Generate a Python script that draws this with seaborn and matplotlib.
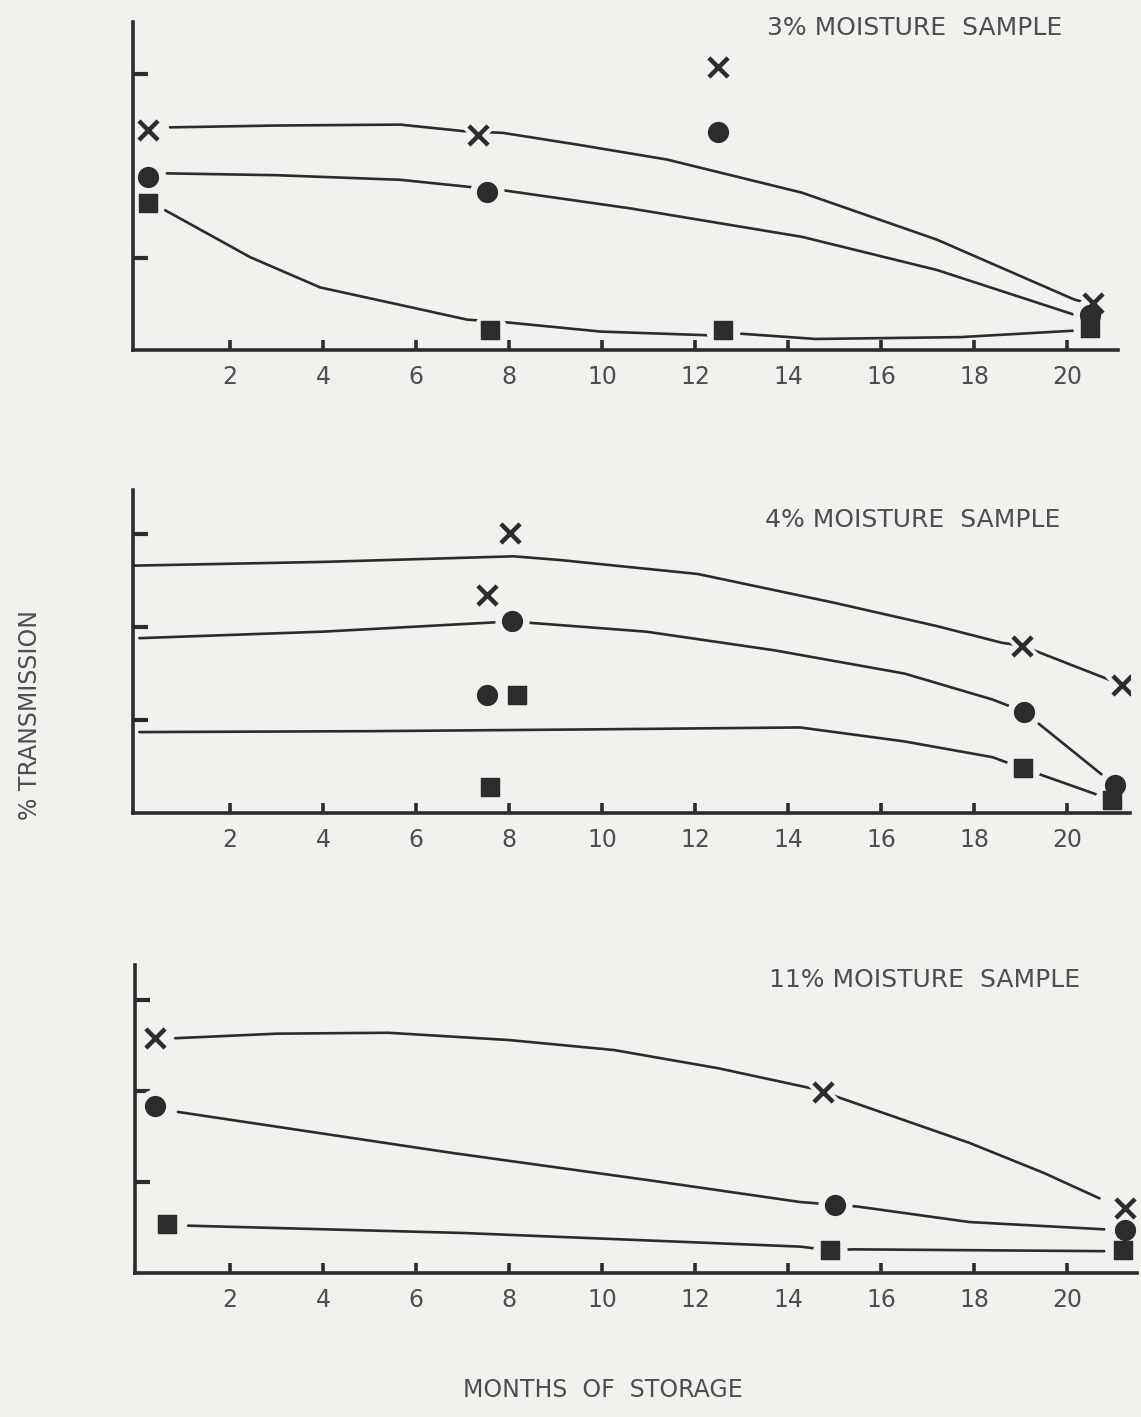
import numpy as np
import pandas as pd
import matplotlib
matplotlib.use("Agg")
import matplotlib.pyplot as plt
import seaborn as sns

# ---- data (months, transmission in tick units) ----
titles = ["3% MOISTURE  SAMPLE", "4% MOISTURE  SAMPLE", "11% MOISTURE  SAMPLE"]
month_ticks = [2, 4, 6, 8, 10, 12, 14, 16, 18, 20]

# 3% sample
p1_x_pts_x = [0.24, 7.33, 12.5, 20.56]
p1_x_pts_y = [2.39, 2.34, 3.08, 0.51]
p1_o_pts_x = [0.24, 7.53, 12.5, 20.5]
p1_o_pts_y = [1.88, 1.72, 2.37, 0.38]
p1_s_pts_x = [0.24, 7.6, 12.6, 20.5]
p1_s_pts_y = [1.60, 0.22, 0.22, 0.24]
p1_x_cur_x = [0.71, 3.0, 5.66, 7.0, 7.87, 9.5, 11.4, 14.3, 17.2, 20.15, 20.5]
p1_x_cur_y = [2.42, 2.44, 2.45, 2.38, 2.36, 2.23, 2.07, 1.71, 1.20, 0.55, 0.50]
p1_o_cur_x = [0.64, 3.0, 5.66, 7.2, 7.96, 10.6, 14.3, 17.2, 20.3]
p1_o_cur_y = [1.92, 1.90, 1.85, 1.77, 1.73, 1.54, 1.23, 0.87, 0.36]
p1_s_cur_x = [0.53, 1.5, 2.43, 3.94, 5.66, 7.1, 7.96, 9.98, 12.3, 12.9, 14.6, 17.7, 20.15]
p1_s_cur_y = [1.54, 1.27, 1.01, 0.68, 0.49, 0.33, 0.30, 0.20, 0.16, 0.18, 0.12, 0.14, 0.21]

# 4% sample
p2_x_pts_x = [8.02, 7.53, 19.03, 21.18]
p2_x_pts_y = [3.01, 2.34, 1.80, 1.38]
p2_o_pts_x = [8.06, 7.53, 19.07, 21.03]
p2_o_pts_y = [2.06, 1.27, 1.09, 0.30]
p2_s_pts_x = [8.17, 7.6, 19.05, 20.97]
p2_s_pts_y = [1.27, 0.28, 0.48, 0.14]
p2_x_cur_x = [-0.05, 4.0, 8.1, 9.1, 12.06, 15.0, 17.2, 18.6, 19.03, 21.18]
p2_x_cur_y = [2.66, 2.70, 2.76, 2.72, 2.57, 2.26, 2.01, 1.83, 1.80, 1.38]
p2_o_cur_x = [0.05, 4.0, 8.06, 10.95, 13.7, 16.5, 18.4, 19.07, 21.03]
p2_o_cur_y = [1.88, 1.95, 2.06, 1.95, 1.75, 1.50, 1.22, 1.09, 0.30]
p2_s_cur_x = [0.05, 5.0, 10.0, 14.26, 16.5, 18.4, 19.05, 20.97]
p2_s_cur_y = [0.87, 0.88, 0.90, 0.92, 0.77, 0.60, 0.48, 0.14]

# 11% sample
p3_x_pts_x = [0.39, 14.75, 21.25]
p3_x_pts_y = [2.58, 1.99, 0.71]
p3_o_pts_x = [0.39, 15.0, 21.25]
p3_o_pts_y = [1.84, 0.75, 0.47]
p3_s_pts_x = [0.65, 14.9, 21.2]
p3_s_pts_y = [0.54, 0.25, 0.25]
p3_x_cur_x = [0.82, 3.0, 5.4, 8.0, 10.26, 12.5, 14.5, 14.75, 17.9, 19.5, 20.7]
p3_x_cur_y = [2.58, 2.63, 2.64, 2.56, 2.45, 2.25, 2.03, 1.99, 1.43, 1.10, 0.82]
p3_o_cur_x = [0.88, 6.77, 11.0, 14.26, 15.0, 15.5, 17.9, 20.8]
p3_o_cur_y = [1.77, 1.32, 1.02, 0.78, 0.75, 0.73, 0.56, 0.48]
p3_s_cur_x = [1.1, 7.0, 14.26, 14.9, 15.4, 20.8]
p3_s_cur_y = [0.52, 0.44, 0.29, 0.25, 0.26, 0.24]

panels = [
    dict(pts=[(p1_x_pts_x, p1_x_pts_y), (p1_o_pts_x, p1_o_pts_y), (p1_s_pts_x, p1_s_pts_y)],
         cur=[(p1_x_cur_x, p1_x_cur_y), (p1_o_cur_x, p1_o_cur_y), (p1_s_cur_x, p1_s_cur_y)],
         yticks=[1, 3]),
    dict(pts=[(p2_x_pts_x, p2_x_pts_y), (p2_o_pts_x, p2_o_pts_y), (p2_s_pts_x, p2_s_pts_y)],
         cur=[(p2_x_cur_x, p2_x_cur_y), (p2_o_cur_x, p2_o_cur_y), (p2_s_cur_x, p2_s_cur_y)],
         yticks=[1, 2, 3]),
    dict(pts=[(p3_x_pts_x, p3_x_pts_y), (p3_o_pts_x, p3_o_pts_y), (p3_s_pts_x, p3_s_pts_y)],
         cur=[(p3_x_cur_x, p3_x_cur_y), (p3_o_cur_x, p3_o_cur_y), (p3_s_cur_x, p3_s_cur_y)],
         yticks=[1, 2, 3]),
]

# ---- layout (pixel boxes of the hand-drawn axes) ----
W, H = 1141, 1417
px_per_month = 46.5
x0_px = 137
boxes = [  # left px, right px, top px, bottom px, px per y unit
    (133, 1118, 22, 350, 92),
    (133, 1130, 490, 813, 93),
    (135, 1137, 965, 1273, 91),
]
title_pos = [(1062, 28), (1060, 520), (1080, 980)]

ink = "#2e2c2b"
paper = "#f3f1ee"
label_col = "#4f4e4d"

sns.set_style("ticks")
plt.rcParams["font.family"] = ["DejaVu Sans"]

fig = plt.figure(figsize=(W / 100, H / 100), dpi=100, facecolor=paper)

for p, box, title, tpos in zip(panels, boxes, titles, title_pos):
    l, r, t, b, upy = box
    ax = fig.add_axes([l / W, 1 - b / H, (r - l) / W, (b - t) / H])
    ax.set_facecolor(paper)
    ax.set_xlim((l - x0_px) / px_per_month, (r - x0_px) / px_per_month)
    ax.set_ylim(0, (b - t) / upy)

    for cx, cy in p["cur"]:
        sns.lineplot(x=cx, y=cy, ax=ax, color=ink, linewidth=1.9, sort=False,
                     estimator=None)

    (xx, xy), (ox, oy), (sx, sy) = p["pts"]
    # paper-coloured halo so the drawn curves stop short of the symbols
    sns.scatterplot(x=xx, y=xy, ax=ax, marker="x", s=330, linewidth=9,
                    color=paper, zorder=4)
    sns.scatterplot(x=ox + sx, y=oy + sy, ax=ax, marker="o", s=520,
                    color=paper, edgecolor=paper, zorder=4)
    sns.scatterplot(x=xx, y=xy, ax=ax, marker="x", s=190, linewidth=3.2,
                    color=ink, zorder=5)
    sns.scatterplot(x=ox, y=oy, ax=ax, marker="o", s=200, color=ink,
                    edgecolor=ink, zorder=5)
    sns.scatterplot(x=sx, y=sy, ax=ax, marker="s", s=170, color=ink,
                    edgecolor=ink, zorder=5)

    sns.despine(ax=ax)
    for side in ["left", "bottom"]:
        ax.spines[side].set_linewidth(2.6)
        ax.spines[side].set_color(ink)
        ax.spines[side].set_zorder(6)
    ax.set_xticks(month_ticks)
    ax.set_xticklabels([str(m) for m in month_ticks], fontsize=17, color=label_col)
    ax.set_yticks(p["yticks"])
    ax.set_yticklabels([])
    ax.tick_params(axis="x", direction="in", length=7, width=2.6, color=ink, pad=11)
    ax.tick_params(axis="y", direction="in", length=11, width=3, color=ink)
    ax.set_xlabel("")
    ax.set_ylabel("")

    fig.text(tpos[0] / W, 1 - tpos[1] / H, title, ha="right", va="center",
             fontsize=18, color=label_col)

fig.text(603 / W, 1 - 1390 / H, "MONTHS  OF  STORAGE", ha="center", va="center",
         fontsize=17, color=label_col)
fig.text(30 / W, 1 - 715 / H, "% TRANSMISSION", ha="center", va="center",
         rotation=90, fontsize=17, color=label_col)

fig.savefig("out.png", dpi=100, facecolor=paper)
